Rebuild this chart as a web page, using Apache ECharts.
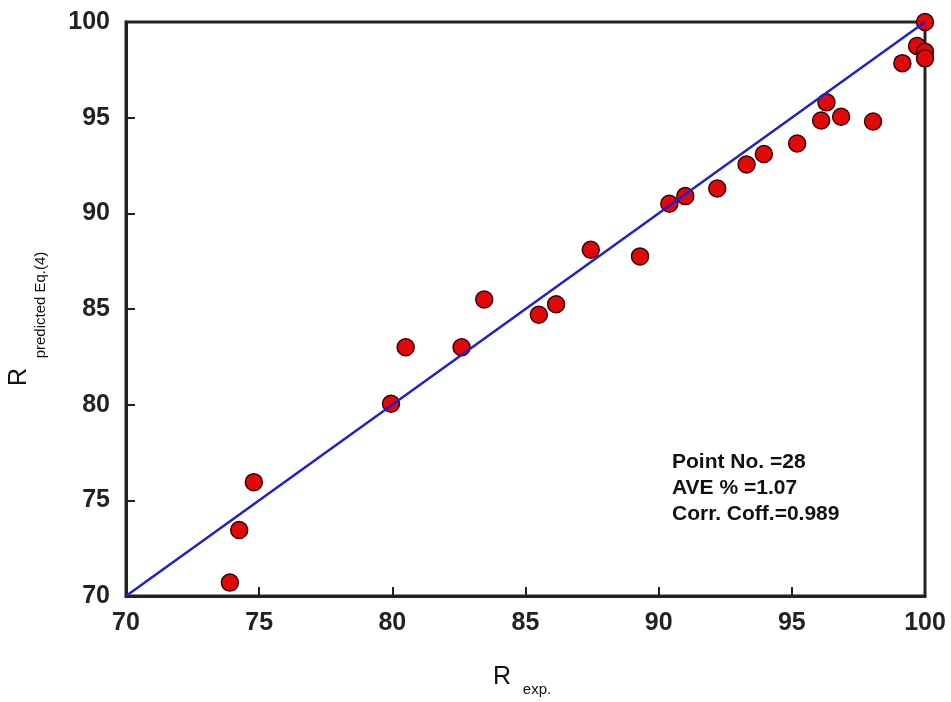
<!DOCTYPE html>
<html>
<head>
<meta charset="utf-8">
<script src="https://cdn.jsdelivr.net/npm/echarts@6/dist/echarts.min.js"></script>
<style>
  html, body { margin: 0; padding: 0; background: #fff; }
  #chart { width: 951px; height: 702px; }
</style>
</head>
<body>
<div id="chart"></div>
<script>
// measured vs predicted recovery
const rExp = [
  100, 99.7, 100, 100, 99.15, 96.3, 96.1, 96.85, 98.05, 95.2,
  93.95, 93.3, 92.2, 91.0, 90.4, 89.3, 87.45, 86.15, 85.5, 83.45,
  80.5, 82.6, 79.95, 74.8, 74.25, 73.9
];
const rPred = [
  100, 98.75, 98.45, 98.1, 97.85, 95.8, 94.85, 95.05, 94.8, 93.65,
  93.1, 92.55, 91.3, 90.9, 90.5, 87.75, 88.1, 85.25, 84.7, 85.5,
  83.0, 83.0, 80.05, 75.95, 73.45, 70.7
];
const parityLine = [70, 100];
const statsText = ['Point No. =28', 'AVE % =1.07', 'Corr. Coff.=0.989'];

const chart = echarts.init(document.getElementById('chart'));

const axisCommon = {
  type: 'value',
  min: 70,
  max: 100,
  interval: 5,
  splitLine: { show: false },
  axisLine: { onZero: false, lineStyle: { color: '#222', width: 3 } },
  axisTick: { inside: true, length: 9, lineStyle: { color: '#222', width: 2 } },
  axisLabel: {
    color: '#222',
    fontFamily: 'Liberation Sans, Arial, sans-serif',
    fontWeight: 'bold',
    fontSize: 25
  }
};

const option = {
  backgroundColor: '#fff',
  animation: false,
  grid: {
    left: 126, right: 26, top: 22, bottom: 106,
    show: true, borderColor: '#222', borderWidth: 3
  },
  xAxis: Object.assign({}, axisCommon, {
    axisLabel: Object.assign({}, axisCommon.axisLabel, { margin: 15 })
  }),
  yAxis: Object.assign({}, axisCommon, {
    axisLabel: Object.assign({}, axisCommon.axisLabel, { margin: 16 })
  }),
  graphic: [
    { type: 'text', x: 502, y: 677, style: { text: 'R', fontSize: 25, fontFamily: 'Liberation Sans, Arial', fill: '#111', align: 'center', verticalAlign: 'middle' } },
    { type: 'text', x: 537, y: 690, style: { text: 'exp.', fontSize: 15, fontFamily: 'Liberation Sans, Arial', fill: '#111', align: 'center', verticalAlign: 'middle' } },
    { type: 'text', x: 19, y: 377, rotation: Math.PI / 2, style: { text: 'R', fontSize: 25, fontFamily: 'Liberation Sans, Arial', fill: '#111', align: 'center', verticalAlign: 'middle' } },
    { type: 'text', x: 41, y: 305, rotation: Math.PI / 2, style: { text: 'predicted Eq.(4)', fontSize: 15, fontFamily: 'Liberation Sans, Arial', fill: '#111', align: 'center', verticalAlign: 'middle' } },
    {
      type: 'text', x: 672, y: 449,
      style: {
        text: statsText.join('\n'),
        fontSize: 21, lineHeight: 26, fontWeight: 'bold',
        fontFamily: 'Liberation Sans, Arial', fill: '#111'
      }
    }
  ],
  series: [
    {
      type: 'scatter',
      data: rExp.map((x, i) => [x, rPred[i]]),
      symbol: 'circle',
      symbolSize: 17,
      clip: false,
      itemStyle: { color: '#e00808', borderColor: '#3a0000', borderWidth: 1.5, opacity: 1 },
      z: 3
    },
    {
      type: 'line',
      data: parityLine.map(v => [v, v]),
      symbol: 'none',
      lineStyle: { color: '#2020cc', width: 2.5 },
      z: 4
    }
  ]
};

chart.setOption(option);
</script>
</body>
</html>
